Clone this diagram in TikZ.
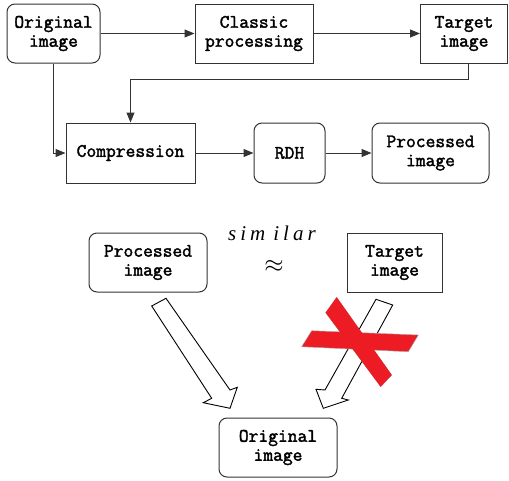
\documentclass[tikz,border=0pt]{standalone}
\usepackage{fontspec}
\newfontfamily\simfont{Liberation Serif}
\newfontfamily\boxfont{Latin Modern Mono}[FakeBold=2]
\usetikzlibrary{arrows.meta}
\definecolor{xred}{HTML}{ED1C24}
\definecolor{lin}{HTML}{333333}
\tikzset{
  base/.style={draw=lin, line width=1pt, align=center, inner sep=0pt,
    font=\boxfont\fontsize{19}{19}\selectfont, text=black},
  rbox/.style={base, rounded corners=8pt},
  sbox/.style={base},
  arr/.style={draw=lin, line width=1pt, -{Triangle[length=10pt,width=8pt]}},
  hollow/.style={draw=black, line width=0.9pt, fill=white, line join=miter},
}
\begin{document}
\begin{tikzpicture}[x=1pt,y=-1pt]
\useasboundingbox (0,0) rectangle (509,480);
% top flow
\node[rbox, minimum width=93pt, minimum height=59pt] (orig) at (53.5,33.5) {Original\\image};
\node[sbox, minimum width=118pt, minimum height=59pt] (classic) at (254,33.5) {Classic\\processing};
\node[sbox, minimum width=87pt, minimum height=59pt] (target) at (464,33.5) {Target\\image};
\node[sbox, minimum width=129pt, minimum height=60pt] (comp) at (130.5,153) {Compression};
\node[rbox, minimum width=71pt, minimum height=60pt] (rdh) at (289.5,153) {RDH};
\node[rbox, minimum width=117pt, minimum height=60pt] (proc) at (430.5,153) {Processed\\image};
\draw[arr] (orig) -- (classic);
\draw[arr] (classic) -- (target);
\draw[arr] ([xshift=4pt]target.south) -- ++(0,16) -| (comp.north);
\draw[arr] (orig.south) |- (comp.west);
\draw[arr] (comp) -- (rdh);
\draw[arr] (rdh) -- (proc);
% bottom
\node[rbox, minimum width=118pt, minimum height=59pt] (proc2) at (148,262.5) {Processed\\image};
\node[sbox, minimum width=95pt, minimum height=59pt] (target2) at (394.5,262.5) {Target\\image};
\node[rbox, minimum width=118pt, minimum height=59pt] (orig2) at (278,447.5) {Original\\image};
\node[font=\simfont\itshape\fontsize{21}{21}\selectfont, anchor=base] (sim) at (272,240)
  {s\hspace{4pt}i\hspace{4pt}m\hspace{8pt}i\hspace{4pt}l\hspace{4pt}a\hspace{4pt}r};
\node[font=\fontsize{38}{38}\selectfont] (apx) at (274,266) {$\approx$};
% hollow arrows
\draw[hollow] (151.7,306) -- (166,298.3) -- (230,390) -- (237.3,387.3) -- (230,408.3)
  -- (203.3,402.7) -- (211.7,398.3) -- cycle;
\draw[hollow] (376,299.3) -- (392.7,305) -- (341.7,398.3) -- (348.3,400) -- (323.3,408.3)
  -- (316,389.3) -- (325,390) -- cycle;
% red cross
\fill[xred, draw=black!35, line width=0.4pt] (325.7,312.7) -- (336.7,297.3) -- (391.7,375) -- (380.7,386.7) -- cycle;
\fill[xred, draw=black!35, line width=0.4pt] (311.7,330.7) -- (418.3,335) -- (408.3,351.7) -- (301.7,346.7) -- cycle;
\fill[xred] (325.7,312.7) -- (336.7,297.3) -- (391.7,375) -- (380.7,386.7) -- cycle;
\end{tikzpicture}
\end{document}
